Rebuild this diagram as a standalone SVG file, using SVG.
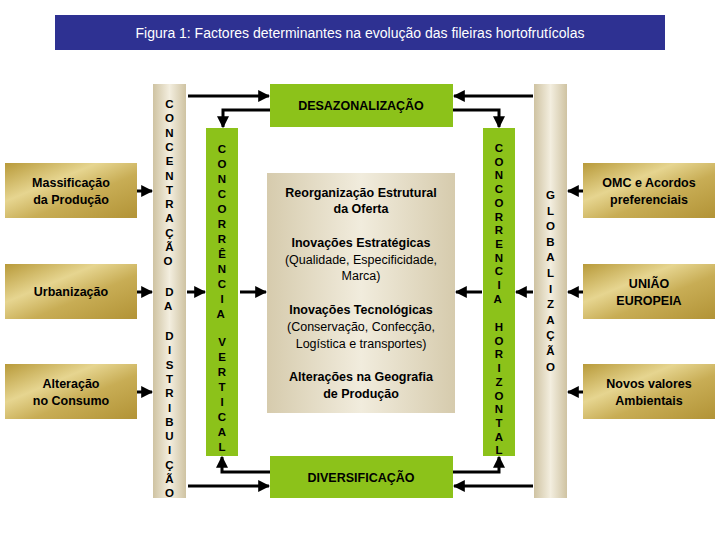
<svg xmlns="http://www.w3.org/2000/svg" width="720" height="540" viewBox="0 0 720 540">
<defs>
<linearGradient id="gold" x1="0" y1="0" x2="1" y2="1">
<stop offset="0" stop-color="#b89a3a"/><stop offset="0.35" stop-color="#e6d590"/><stop offset="0.6" stop-color="#c8ad55"/><stop offset="1" stop-color="#b29336"/>
</linearGradient>
<linearGradient id="tan" x1="0" y1="0" x2="1" y2="0">
<stop offset="0" stop-color="#cfc3a2"/><stop offset="0.5" stop-color="#f3eedf"/><stop offset="1" stop-color="#cfc3a2"/>
</linearGradient>
<linearGradient id="ctr" x1="0" y1="0" x2="1" y2="0">
<stop offset="0" stop-color="#d6cbad"/><stop offset="0.5" stop-color="#f1ecdd"/><stop offset="1" stop-color="#d6cbad"/>
</linearGradient>
<marker id="ah" viewBox="0 0 10 10" refX="9" refY="5" markerWidth="4" markerHeight="4" orient="auto"><path d="M0,0L10,5L0,10z" fill="#000"/></marker>
</defs>
<style>
text{font-family:"Liberation Sans",Arial,sans-serif;fill:#000}
.b{font-weight:bold;font-size:12.5px}
.n{font-size:12.5px}
.v{font-weight:bold;font-size:11.5px}
.gold{fill:url(#gold)}
.tan{fill:url(#tan)}
.grn{fill:#8cc21a}
.c line,.c polyline{stroke:#000;stroke-width:3;fill:none;marker-end:url(#ah)}
</style>
<rect width="720" height="540" fill="#fff"/>
<g id="title"><rect x="55" y="15" width="610" height="35" fill="#2e3192"/><text x="360" y="38" text-anchor="middle" font-size="14" style="fill:#fff">Figura 1: Factores determinantes na evolução das fileiras hortofrutícolas</text></g>

<g id="massificacao"><rect class="gold" x="5" y="163" width="132" height="55"/><text class="b" x="71" y="187" text-anchor="middle">Massificação</text><text class="b" x="71" y="204" text-anchor="middle">da Produção</text></g>
<g id="urbanizacao"><rect class="gold" x="5" y="264" width="132" height="55"/><text class="b" x="71" y="296" text-anchor="middle">Urbanização</text></g>
<g id="alteracao"><rect class="gold" x="5" y="364" width="132" height="55"/><text class="b" x="71" y="388" text-anchor="middle">Alteração</text><text class="b" x="71" y="405" text-anchor="middle">no Consumo</text></g>

<g id="omc"><rect class="gold" x="583" y="163" width="132" height="55"/><text class="b" x="649" y="187" text-anchor="middle">OMC e Acordos</text><text class="b" x="649" y="204" text-anchor="middle">preferenciais</text></g>
<g id="ue"><rect class="gold" x="583" y="264" width="132" height="55"/><text class="b" x="649" y="288" text-anchor="middle">UNIÃO</text><text class="b" x="649" y="305" text-anchor="middle">EUROPEIA</text></g>
<g id="novos"><rect class="gold" x="583" y="364" width="132" height="55"/><text class="b" x="649" y="388" text-anchor="middle">Novos valores</text><text class="b" x="649" y="405" text-anchor="middle">Ambientais</text></g>

<g id="concentracao"><rect class="tan" x="153" y="84" width="33" height="414"/>
<text class="v" text-anchor="middle">
<tspan x="169.5" y="108">C</tspan><tspan x="169.5" y="122.3">O</tspan><tspan x="169.5" y="136.6">N</tspan><tspan x="169.5" y="150.9">C</tspan><tspan x="169.5" y="165.2">E</tspan><tspan x="169.5" y="179.5">N</tspan><tspan x="169.5" y="193.8">T</tspan><tspan x="169.5" y="208.1">R</tspan><tspan x="169.5" y="222.4">A</tspan><tspan x="169.5" y="236.7">Ç</tspan><tspan x="169.5" y="251">Ã</tspan><tspan x="169.5" y="265.3">O</tspan>
<tspan x="169.5" y="296">D</tspan><tspan x="169.5" y="310.3">A</tspan>
<tspan x="169.5" y="340">D</tspan><tspan x="169.5" y="354.3">I</tspan><tspan x="169.5" y="368.6">S</tspan><tspan x="169.5" y="382.9">T</tspan><tspan x="169.5" y="397.2">R</tspan><tspan x="169.5" y="411.5">I</tspan><tspan x="169.5" y="425.8">B</tspan><tspan x="169.5" y="440.1">U</tspan><tspan x="169.5" y="454.4">I</tspan><tspan x="169.5" y="468.7">Ç</tspan><tspan x="169.5" y="483">Ã</tspan><tspan x="169.5" y="497.3">O</tspan>
</text></g>

<g id="globalizacao"><rect class="tan" x="534" y="84" width="33" height="414"/>
<text class="v" text-anchor="middle">
<tspan x="550.5" y="199">G</tspan><tspan x="550.5" y="214.6">L</tspan><tspan x="550.5" y="230.2">O</tspan><tspan x="550.5" y="245.8">B</tspan><tspan x="550.5" y="261.4">A</tspan><tspan x="550.5" y="277">L</tspan><tspan x="550.5" y="292.6">I</tspan><tspan x="550.5" y="308.2">Z</tspan><tspan x="550.5" y="323.8">A</tspan><tspan x="550.5" y="339.4">Ç</tspan><tspan x="550.5" y="355">Ã</tspan><tspan x="550.5" y="370.6">O</tspan>
</text></g>

<g id="vertical"><rect class="grn" x="206" y="128" width="32" height="328"/>
<text class="v" text-anchor="middle">
<tspan x="222" y="153">C</tspan><tspan x="222" y="168">O</tspan><tspan x="222" y="183">N</tspan><tspan x="222" y="198">C</tspan><tspan x="222" y="213">O</tspan><tspan x="222" y="228">R</tspan><tspan x="222" y="243">R</tspan><tspan x="222" y="258">Ê</tspan><tspan x="222" y="273">N</tspan><tspan x="222" y="288">C</tspan><tspan x="222" y="303">I</tspan><tspan x="222" y="318">A</tspan>
<tspan x="222" y="346">V</tspan><tspan x="222" y="361">E</tspan><tspan x="222" y="376">R</tspan><tspan x="222" y="391">T</tspan><tspan x="222" y="406">I</tspan><tspan x="222" y="421">C</tspan><tspan x="222" y="436">A</tspan><tspan x="222" y="451">L</tspan>
</text></g>

<g id="horizontal"><rect class="grn" x="483" y="128" width="32" height="328"/>
<text class="v" text-anchor="middle">
<tspan x="499" y="152">C</tspan><tspan x="499" y="165.7">O</tspan><tspan x="499" y="179.4">N</tspan><tspan x="499" y="193.1">C</tspan><tspan x="499" y="206.8">O</tspan><tspan x="499" y="220.5">R</tspan><tspan x="499" y="234.2">R</tspan><tspan x="499" y="247.9">E</tspan><tspan x="499" y="261.6">N</tspan><tspan x="499" y="275.3">C</tspan><tspan x="499" y="289">I</tspan><tspan x="499" y="302.7">A</tspan>
<tspan x="499" y="331">H</tspan><tspan x="499" y="344.7">O</tspan><tspan x="499" y="358.4">R</tspan><tspan x="499" y="372.1">I</tspan><tspan x="499" y="385.8">Z</tspan><tspan x="499" y="399.5">O</tspan><tspan x="499" y="413.2">N</tspan><tspan x="499" y="426.9">T</tspan><tspan x="499" y="440.6">A</tspan><tspan x="499" y="454.3">L</tspan>
</text></g>

<g id="desazonalizacao"><rect class="grn" x="270" y="84" width="183" height="43"/><text class="b" x="361" y="110" text-anchor="middle">DESAZONALIZAÇÃO</text></g>
<g id="diversificacao"><rect class="grn" x="270" y="456" width="183" height="42"/><text class="b" x="361" y="482" text-anchor="middle">DIVERSIFICAÇÃO</text></g>

<g id="centro"><rect x="267" y="173" width="188" height="240" fill="url(#ctr)"/>
<text class="b" x="361" y="197" text-anchor="middle">Reorganização Estrutural</text>
<text class="b" x="361" y="213" text-anchor="middle">da Oferta</text>
<text class="b" x="361" y="247" text-anchor="middle">Inovações Estratégicas</text>
<text class="n" x="361" y="264" text-anchor="middle">(Qualidade, Especificidade,</text>
<text class="n" x="361" y="280" text-anchor="middle">Marca)</text>
<text class="b" x="361" y="314" text-anchor="middle">Inovações Tecnológicas</text>
<text class="n" x="361" y="331" text-anchor="middle">(Conservação, Confecção,</text>
<text class="n" x="361" y="348" text-anchor="middle">Logística e transportes)</text>
<text class="b" x="361" y="381" text-anchor="middle">Alterações na Geografia</text>
<text class="b" x="361" y="398" text-anchor="middle">de Produção</text>
</g>

<g id="connectors" class="c">
<line x1="137" y1="191" x2="152" y2="191"/>
<line x1="137" y1="292" x2="152" y2="292"/>
<line x1="137" y1="392" x2="152" y2="392"/>
<line x1="583" y1="191" x2="568" y2="191"/>
<line x1="583" y1="292" x2="568" y2="292"/>
<line x1="583" y1="392" x2="568" y2="392"/>
<line x1="187" y1="292" x2="205" y2="292"/>
<line x1="240" y1="292" x2="266" y2="292"/>
<line x1="533" y1="292" x2="516" y2="292"/>
<line x1="482" y1="292" x2="456" y2="292"/>
<line x1="188" y1="96" x2="269" y2="96"/>
<line x1="188" y1="486" x2="269" y2="486"/>
<line x1="533" y1="96" x2="454" y2="96"/>
<line x1="533" y1="486" x2="454" y2="486"/>
<polyline points="270,110 223,110 223,127"/>
<polyline points="270,472 222,472 222,457"/>
<polyline points="453,110 499,110 499,127"/>
<polyline points="453,472 499,472 499,457"/>
</g>
</svg>
